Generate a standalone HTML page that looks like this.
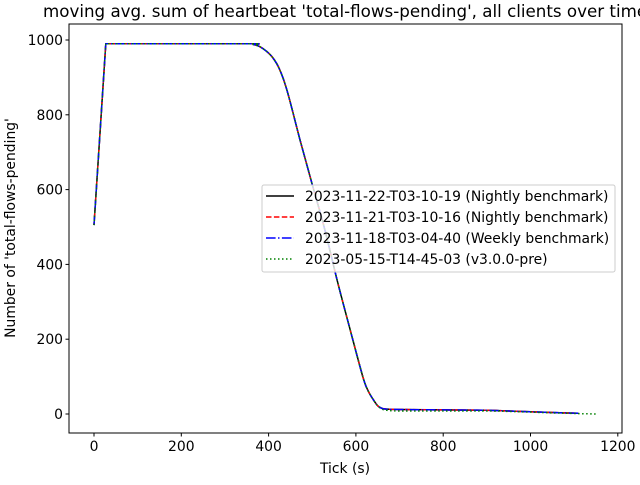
<!DOCTYPE html>
<html><head><meta charset="utf-8"><style>
body{margin:0;background:#fff}
svg text{font-family:"DejaVu Sans","Liberation Sans",sans-serif;fill:#000}
</style></head><body>
<svg width="640" height="480" xmlns="http://www.w3.org/2000/svg">
<rect width="640" height="480" fill="#fff"/>
<text x="43" y="17" font-size="16.7">moving avg. sum of heartbeat 'total-flows-pending', all clients over time</text>
<g id="plot"></g>
<g id="axes"></g>
<text x="345" y="473" font-size="13.9" text-anchor="middle">Tick (s)</text>
<text transform="translate(15,228) rotate(-90)" font-size="13.9" text-anchor="middle">Number of 'total-flows-pending'</text>
<g id="legend"></g>
</svg>
<script>
const xTicks=[0,200,400,600,800,1000,1200];
const yTicks=[0,200,400,600,800,1000];
const mainX=[0,27,350,365,380,395,410,425,442,472,499,529,557,587,616,628,640,650,660,670,700,800,900,950,1000,1050,1110];
const mainY=[505,990,990,988,982,970,952,922,866,733,618,492,358,225,99,62,38,22,15,13,12,11,10,8,6,4,2];
const greenX=[0,27,350,365,380,395,410,425,442,472,499,529,557,587,616,628,640,650,660,670,700,800,900,950,1000,1050,1110,1150];
const greenY=[505,990,990,988,982,970,952,922,866,733,618,492,358,225,99,62,38,22,13,10,8,8,8,7,5,3,1,0];
const labels=["2023-11-22-T03-10-19 (Nightly benchmark)","2023-11-21-T03-10-16 (Nightly benchmark)","2023-11-18-T03-04-40 (Weekly benchmark)","2023-05-15-T14-45-03 (v3.0.0-pre)"];
const NS="http://www.w3.org/2000/svg";
const L=69,R=622,T=24,B=433;
const sx=v=>94+v*0.4365;
const sy=v=>414-v*0.374;
function mk(tag,attrs,parent){const e=document.createElementNS(NS,tag);for(const k in attrs)e.setAttribute(k,attrs[k]);parent.appendChild(e);return e;}
function smooth(xs,ys){
  const P=xs.map((x,i)=>[sx(x),sy(ys[i])]);
  let d='M'+P[0][0].toFixed(1)+','+P[0][1].toFixed(1);
  for(let i=0;i<P.length-1;i++){
    const p0=P[Math.max(0,i-1)],p1=P[i],p2=P[i+1],p3=P[Math.min(P.length-1,i+2)];
    const k=(i===0||i===1)?0:1/6;
    const c1=[p1[0]+(p2[0]-p0[0])*k,p1[1]+(p2[1]-p0[1])*k];
    const c2=[p2[0]-(p3[0]-p1[0])*k,p2[1]-(p3[1]-p1[1])*k];
    d+='C'+c1[0].toFixed(1)+','+c1[1].toFixed(1)+' '+c2[0].toFixed(1)+','+c2[1].toFixed(1)+' '+p2[0].toFixed(1)+','+p2[1].toFixed(1);
  }
  return d;
}
const axes=document.getElementById('axes'),plot=document.getElementById('plot'),leg=document.getElementById('legend');
const styles=[{c:"#000",d:""},{c:"#f00",d:"5.5,2.4"},{c:"#00f",d:"9.6,2.4,1.5,2.4"},{c:"#008000",d:"1.5,2.5"}];
const series=[[mainX,mainY],[mainX,mainY],[mainX,mainY],[greenX,greenY]];
for(let s=0;s<4;s++){
  const [xs,ys]=series[s];
  const e=mk('path',{d:smooth(xs,ys),fill:'none',stroke:styles[s].c,'stroke-width':1.5,'stroke-dasharray':styles[s].d},plot);
  
  
}
const fr=mk('rect',{x:L,y:T,width:R-L,height:B-T,fill:'none',stroke:'#000','stroke-width':1},axes);


xTicks.forEach(v=>{
  const x=sx(v);
  mk('line',{x1:x,x2:x,y1:B,y2:B+3.5,stroke:'#000'},axes);
  const t=mk('text',{x:x,y:B+18,'font-size':13.9,'text-anchor':'middle'},axes);t.textContent=v;
  
  
});
yTicks.forEach(v=>{
  const y=sy(v);
  mk('line',{x1:L-3.5,x2:L,y1:y,y2:y,stroke:'#000'},axes);
  const t=mk('text',{x:L-6,y:y+5,'font-size':13.9,'text-anchor':'end'},axes);t.textContent=v;
  
  
});
const box=mk('rect',{x:262,y:185,width:353,height:87,rx:2,fill:'#fff','fill-opacity':0.8,stroke:'#ccc'},leg);


labels.forEach((lab,i)=>{
  const y=196+i*21;
  const g=mk('g',{},leg);
  
  
  mk('line',{x1:266,x2:294,y1:y,y2:y,stroke:styles[i].c,'stroke-width':1.5,'stroke-dasharray':styles[i].d},g);
  const t=mk('text',{x:305,y:y+5,'font-size':13.9},g);t.textContent=lab;
});
</script>
</body></html>
